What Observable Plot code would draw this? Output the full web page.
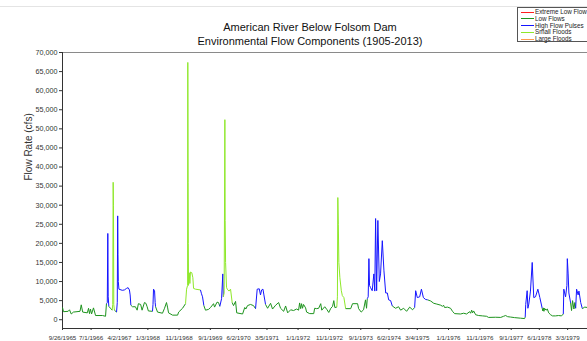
<!DOCTYPE html>
<html><head><meta charset="utf-8">
<script src="https://cdn.jsdelivr.net/npm/d3@7"></script>
<script src="https://cdn.jsdelivr.net/npm/@observablehq/plot@0.6"></script>
<style>
html,body{margin:0;padding:0;background:#fff;overflow:hidden}
#wrap{position:relative;width:587px;height:341px;font-family:"Liberation Sans",Arial,sans-serif}
#chart{position:absolute;left:0;top:0}
.title{position:absolute;left:0;width:620px;text-align:center;font-size:11px;line-height:14px;color:#111}
#topline{position:absolute;left:0;top:6px;width:587px;height:1px;background:#e4e4e4}
#legend{position:absolute;left:517px;top:7px;width:80px;height:33px;border:1px solid #555;background:#fff;font-size:6.3px;color:#222}
.row{position:absolute;left:0;height:7px;width:80px}
.row .sw{position:absolute;left:3px;top:3px;width:13px;height:1px}
.row .lb{position:absolute;left:17px;top:-0.5px;line-height:7px;white-space:nowrap}
</style></head><body>
<div id="wrap">
  <div id="topline"></div>
  <div id="chart"></div>
  <div class="title" style="top:20px">American River Below Folsom Dam</div>
  <div class="title" style="top:34px">Environmental Flow Components (1905-2013)</div>
  <div id="legend"></div>
</div>
<script>
// ---- data ----
const componentCodes = ["X", "L", "H", "S", "F"];
const componentNames = ["Extreme Low Flow", "Low Flows", "High Flow Pulses", "Small Floods", "Large Floods"];
const componentColors = ["#ff2020", "#1e941e", "#1515ff", "#8fe82a", "#ff9a50"];

const dates = [
"1965-09-26","1965-10-06","1965-11-20","1965-12-03","1965-12-20","1966-01-10","1966-03-15","1966-03-27","1966-04-10","1966-05-25",
"1966-06-06","1966-06-15","1966-06-25","1966-07-05","1966-07-24","1966-08-13","1966-10-20","1966-11-18","1966-11-27","1966-12-05",
"1966-12-10","1966-12-14","1966-12-20","1967-01-05","1967-01-22","1967-01-27","1967-01-31","1967-02-03","1967-02-06","1967-02-12",
"1967-03-05","1967-03-12","1967-03-16","1967-03-19","1967-03-22","1967-03-28","1967-04-30","1967-05-20","1967-06-10","1967-06-25",
"1967-07-08","1967-07-15","1967-07-22","1967-08-07","1967-09-04","1967-09-21","1967-10-03","1967-10-25","1967-11-08","1967-12-01",
"1967-12-15","1967-12-27","1968-01-08","1968-02-17","1968-02-22","1968-02-27","1968-03-08","1968-03-14","1968-03-18","1968-04-06",
"1968-05-24","1968-06-13","1968-07-02","1968-07-12","1968-07-22","1968-08-30","1968-10-18","1968-10-28","1968-12-05","1969-01-03",
"1969-01-13","1969-01-23","1969-01-25","1969-01-28","1969-01-30","1969-02-01","1969-02-08","1969-02-14","1969-02-20","1969-03-05",
"1969-03-15","1969-03-22","1969-04-10","1969-05-28","1969-06-07","1969-06-17","1969-06-30","1969-07-16","1969-08-14","1969-09-03",
"1969-10-02","1969-10-12","1969-11-05","1969-11-19","1969-12-02","1969-12-19","1969-12-31","1970-01-05","1970-01-13","1970-01-20",
"1970-01-23","1970-01-27","1970-02-05","1970-02-12","1970-03-01","1970-03-16","1970-04-01","1970-04-14","1970-05-04","1970-05-15",
"1970-07-11","1970-08-01","1970-08-12","1970-08-28","1970-09-26","1970-10-25","1970-11-14","1970-11-30","1970-12-20","1971-01-01",
"1971-01-12","1971-01-25","1971-02-03","1971-02-19","1971-03-11","1971-04-09","1971-04-28","1971-05-28","1971-06-26","1971-07-15",
"1971-08-14","1971-09-02","1971-09-22","1971-10-21","1971-11-18","1971-12-18","1972-01-06","1972-01-16","1972-01-26","1972-02-04",
"1972-02-13","1972-02-23","1972-03-14","1972-03-24","1972-04-23","1972-06-01","1972-06-10","1972-06-30","1972-07-19","1972-08-08",
"1972-08-18","1972-09-16","1972-10-06","1972-10-25","1972-11-14","1972-12-01","1972-12-13","1972-12-23","1973-01-11","1973-01-17",
"1973-01-21","1973-01-26","1973-01-31","1973-02-10","1973-02-24","1973-03-06","1973-03-21","1973-04-07","1973-05-26","1973-06-13",
"1973-08-01","1973-08-11","1973-09-05","1973-09-28","1973-10-17","1973-10-27","1973-11-03","1973-11-12","1973-11-19","1973-11-25",
"1973-12-05","1973-12-21","1974-01-06","1974-01-15","1974-01-23","1974-02-02","1974-02-14","1974-02-28","1974-03-12","1974-03-29",
"1974-04-14","1974-05-01","1974-05-17","1974-05-30","1974-06-18","1974-07-04","1974-08-05","1974-09-03","1974-09-23","1974-10-22",
"1974-11-20","1974-12-20","1975-01-17","1975-02-06","1975-02-16","1975-03-04","1975-03-27","1975-04-13","1975-05-02","1975-05-24",
"1975-06-13","1975-07-12","1975-08-11","1975-09-09","1975-10-18","1975-11-04","1975-11-14","1975-11-24","1975-12-23","1976-01-21",
"1976-02-09","1976-02-29","1976-04-27","1976-05-27","1976-06-25","1976-07-24","1976-08-03","1976-08-13","1976-08-22","1976-09-01",
"1976-09-21","1976-10-20","1976-11-27","1977-01-05","1977-01-24","1977-04-03","1977-05-22","1977-06-19","1977-07-09","1977-07-28",
"1977-08-26","1977-10-04","1977-12-01","1978-01-09","1978-01-15","1978-01-20","1978-02-03","1978-02-10","1978-02-19","1978-03-07",
"1978-03-24","1978-04-08","1978-04-25","1978-05-18","1978-06-06","1978-06-29","1978-07-05","1978-07-10","1978-07-16","1978-07-22",
"1978-08-05","1978-08-18","1978-08-31","1978-09-19","1978-10-07","1978-11-05","1978-12-05","1979-01-03","1979-01-20","1979-01-25",
"1979-02-11","1979-02-24","1979-02-28","1979-03-08","1979-03-15","1979-04-01","1979-04-10","1979-04-20","1979-05-03","1979-05-12",
"1979-05-20","1979-05-29","1979-06-13","1979-06-21","1979-07-08","1979-07-24","1979-08-16","1979-09-12"
];

const flows = [
3200,2100,2200,2600,1500,2000,2200,3900,2000,1800,
3000,1600,2800,1500,3100,1100,1100,900,4200,4500,
22600,6000,3500,3000,2500,4000,36000,30000,4000,2500,
2000,4500,27200,17000,10000,8000,7700,7800,8200,8400,
7800,6500,3800,3400,3400,2500,4200,4000,2500,4500,
4300,3400,2300,2200,4000,8000,7600,4500,3400,2000,
1700,3000,4500,3300,1800,1200,1200,2000,3000,4200,
8000,9000,67400,36000,20000,9000,12300,9500,12500,12300,
11000,8200,8000,7800,6800,6000,3700,2500,2700,3200,
4200,3300,4600,4500,3500,5500,12000,6000,7000,52400,
26000,15000,8500,8000,7500,8000,4500,3700,4800,1800,
1500,3200,2800,3700,4000,3700,2900,8000,8100,6500,
7800,8000,6500,4000,3000,4300,2800,3800,4500,3000,
2200,3600,1800,2600,2400,2800,2500,4400,2900,4200,
3000,4000,3100,2000,1600,1600,3000,2900,3000,4200,
2500,3400,2700,1900,3000,3500,5000,3200,3300,6000,
32000,25000,15000,11000,7600,6300,5800,2900,2900,4200,
4200,2900,2000,2600,5200,3000,5500,6000,16000,9000,
8400,7600,12000,7500,26500,7600,26000,10000,12000,20700,
12800,7000,7000,5200,5000,3600,3000,3400,2500,3000,
2200,3300,2600,3200,7600,5800,6000,8000,5800,5300,
5200,4900,4300,4100,3800,3500,3800,3200,3300,3000,
2200,1600,1500,1700,1500,2100,1700,2500,1800,2300,
1300,1100,1000,900,600,650,600,900,1100,800,
700,550,400,300,700,4000,7600,3000,4100,7500,
15000,5800,6000,8000,5800,3000,2300,3100,2200,3000,
2500,2800,1800,1300,1000,1000,1100,1000,1500,8000,
6000,9000,16000,12000,7000,4400,2400,5000,2800,4500,
3000,8000,6500,7500,4500,2900,3300,3200
];

const components = [
"L","L","L","L","L","L","L","L","L","L",
"L","L","L","L","L","L","L","L","L","H",
"H","H","L","L","L","S","S","S","S","L",
"L","H","H","H","H","H","H","H","H","H",
"H","H","L","L","L","L","L","L","L","L",
"L","L","L","L","H","H","H","H","L","L",
"L","L","L","L","L","L","L","L","L","L",
"S","S","S","S","S","S","S","S","S","S",
"S","S","S","S","H","H","L","L","L","L",
"L","L","L","L","L","H","H","H","S","S",
"S","S","S","S","S","S","L","L","L","L",
"L","L","L","L","L","L","L","H","H","H",
"H","H","H","L","L","L","L","L","L","L",
"L","L","L","L","L","L","L","L","L","L",
"L","L","L","L","L","L","L","L","L","L",
"L","L","L","L","L","L","L","L","L","S",
"S","S","S","S","S","S","S","L","L","L",
"L","L","L","L","L","L","L","H","H","H",
"H","H","H","H","H","H","H","H","H","H",
"H","H","H","H","H","L","L","L","L","L",
"L","L","L","L","H","H","H","H","H","H",
"L","L","L","L","L","L","L","L","L","L",
"L","L","L","L","L","L","L","L","L","L",
"L","L","L","L","L","L","L","L","L","L",
"L","L","L","L","L","H","H","H","H","H",
"H","H","H","H","H","L","L","L","L","L",
"L","L","L","L","L","L","L","L","L","H",
"H","H","H","H","H","L","L","L","L","L",
"L","H","H","H","H","L","L","L"
];

const xTickLabels = ["9/26/1965","7/1/1966","4/2/1967","1/3/1968","11/1/1968","9/1/1969","6/2/1970","3/5/1971","1/1/1972","11/1/1972","9/1/1973","6/2/1974","3/4/1975","1/1/1976","11/1/1976","9/1/1977","6/1/1978","3/3/1979"];
const yTicks = [0,5000,10000,15000,20000,25000,30000,35000,40000,45000,50000,55000,60000,65000,70000];
const xStart = "1965-09-26", xEnd = "1979-09-12";
const yMin = -2300, yMax = 70000;

// ---- build ----
const parseMDY = s => { const [m, d, y] = s.split("/").map(Number); return new Date(Date.UTC(y, m - 1, d)); };
const xTickDates = xTickLabels.map(parseMDY);
const tickLabelByTime = new Map(xTickDates.map((d, i) => [+d, xTickLabels[i]]));
const nameOf = Object.fromEntries(componentCodes.map((c, i) => [c, componentNames[i]]));

const pts = dates.map((d, i) => ({date: new Date(d), flow: flows[i], comp: components[i]}));
const segs = [];
for (let i = 0; i < pts.length - 1; i++) {
  const a = pts[i], b = pts[i + 1];
  const c = b.comp !== "L" ? b.comp : a.comp;
  segs.push({x1: a.date, y1: a.flow, x2: b.date, y2: b.flow, comp: nameOf[c]});
}

const chart = Plot.plot({
  width: 587, height: 341,
  marginLeft: 62, marginRight: 0, marginTop: 52, marginBottom: 13,
  style: {fontFamily: "'Liberation Sans', Arial, sans-serif", fontSize: "7.2px", color: "#333", background: "transparent", overflow: "visible"},
  x: {type: "utc", domain: [new Date(xStart), new Date(xEnd)], label: null},
  y: {domain: [yMin, yMax], label: null},
  color: {domain: componentNames, range: componentColors},
  marks: [
    Plot.ruleY([yMax], {stroke: "#8a8a8a", strokeWidth: 1.2}),
    Plot.ruleX([new Date(xStart)], {stroke: "#333"}),
    Plot.ruleY([yMin], {stroke: "#333"}),
    Plot.link(segs, {x1: "x1", y1: "y1", x2: "x2", y2: "y2", stroke: "comp", strokeWidth: 1}),
    Plot.axisY({ticks: yTicks, tickFormat: d3.format(","), tickSize: 3, tickPadding: 2, fontSize: 7.2, label: null}),
    Plot.axisX({ticks: xTickDates, tickFormat: d => tickLabelByTime.get(+d) ?? "", tickSize: 2, tickPadding: 5, fontSize: 6.2, label: null}),
    Plot.text(["Flow Rate (cfs)"], {frameAnchor: "left", dx: -34, dy: -10, rotate: -90, fontSize: 10, fill: "#333"})
  ]
});
document.getElementById("chart").appendChild(chart);

// legend
const lg = document.getElementById("legend");
componentNames.forEach((n, i) => {
  const r = document.createElement("div");
  r.className = "row";
  r.style.top = (0.6 + i * 6.75) + "px";
  r.innerHTML = `<div class="sw" style="background:${componentColors[i]}"></div><div class="lb">${n}</div>`;
  lg.appendChild(r);
});
</script>
</body></html>
